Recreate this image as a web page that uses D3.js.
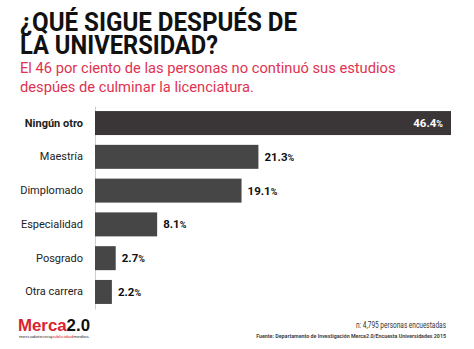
<!DOCTYPE html>
<html>
<head>
<meta charset="utf-8">
<script src="https://cdn.jsdelivr.net/npm/d3@7"></script>
<style>
  body { margin: 0; background: #fff; }
  svg text { font-family: Roboto, "Noto Sans", sans-serif; }
</style>
</head>
<body>
<div id="graph"></div>
<script>
var categories = ["Ningún otro", "Maestría", "Dimplomado", "Especialidad", "Posgrado", "Otra carrera"];
var values = [46.4, 21.3, 19.1, 8.1, 2.7, 2.2];
var titleLines = ["¿QUÉ SIGUE DESPUÉS DE", "LA UNIVERSIDAD?"];
var titleWidths = [277, 198];
var subtitleLines = ["El 46 por ciento de las personas no continuó sus estudios",
                     "despúes de culminar la licenciatura."];

var width = 474;
var height = 349;
var margin = {left: 95, top: 106, bottom: 40};

var svg = d3.select("#graph")
    .append("svg")
    .attr("width", width)
    .attr("height", height);

// heading, squeezed to a condensed look
svg.selectAll(".title")
    .data(titleLines)
    .enter()
    .append("text")
    .attr("class", "title")
    .attr("x", 20)
    .attr("y", function(d, i) { return 31 + i * 23; })
    .attr("textLength", function(d, i) { return titleWidths[i]; })
    .attr("lengthAdjust", "spacingAndGlyphs")
    .style("font-weight", "bold")
    .style("font-size", "25px")
    .style("fill", "#111")
    .text(function(d) { return d; });

svg.selectAll(".subtitle")
    .data(subtitleLines)
    .enter()
    .append("text")
    .attr("class", "subtitle")
    .attr("x", 20)
    .attr("y", function(d, i) { return 73 + i * 19; })
    .style("font-size", "14.7px")
    .style("fill", "#e0324f")
    .text(function(d) { return d; });

var data = categories.map(function(c, i) { return {name: c, value: values[i], i: i}; });

var xScale = d3.scaleLinear().domain([0, 46.4]).range([margin.left, 451]);
var yScale = d3.scaleBand().domain(categories).range([106, 309])
    .paddingInner(0.29).paddingOuter(0.15);

var yAxis = d3.axisLeft(yScale).tickSize(0).tickPadding(12);
var yContainer = svg.append("g")
    .attr("transform", "translate(" + margin.left + ",0)")
    .call(yAxis);
yContainer.select(".domain").attr("stroke", "#cfcfcf").attr("stroke-width", 1);
yContainer.selectAll(".tick text")
    .style("font-family", "Roboto, sans-serif")
    .style("font-size", "11px")
    .style("fill", "#222")
    .style("font-weight", function(d, i) { return i == 0 ? "bold" : "normal"; });

svg.selectAll(".bar")
    .data(data)
    .enter()
    .append("rect")
    .attr("class", "bar")
    .attr("x", xScale(0))
    .attr("y", function(d) { return yScale(d.name); })
    .attr("width", function(d) { return xScale(d.value) - xScale(0); })
    .attr("height", yScale.bandwidth())
    .attr("fill", function(d) { return d.i == 0 ? "#3a3537" : "#464646"; });

// value labels: inside the first bar, after the others
var labels = svg.selectAll(".value")
    .data(data)
    .enter()
    .append("text")
    .attr("class", "value")
    .attr("x", function(d) { return d.i == 0 ? xScale(d.value) - 8 : xScale(d.value) + 6; })
    .attr("y", function(d) { return yScale(d.name) + yScale.bandwidth() / 2 + 4; })
    .attr("text-anchor", function(d) { return d.i == 0 ? "end" : "start"; })
    .style("font-weight", "bold")
    .style("font-size", "11.5px")
    .style("fill", function(d) { return d.i == 0 ? "#fff" : "#111"; });
labels.append("tspan").text(function(d) { return d.value.toFixed(1); });
labels.append("tspan").style("font-size", "9px").text("%");

// footer
svg.append("text")
    .attr("x", 446).attr("y", 328)
    .attr("text-anchor", "end")
    .attr("textLength", 90)
    .attr("lengthAdjust", "spacingAndGlyphs")
    .style("font-size", "8.5px")
    .style("fill", "#333")
    .text("n: 4,795 personas encuestadas");
svg.append("text")
    .attr("x", 446).attr("y", 338)
    .attr("text-anchor", "end")
    .style("font-weight", "bold")
    .style("font-size", "5.3px")
    .style("fill", "#444")
    .text("Fuente: Departamento de Investigación Merca2.0/Encuesta Universidades 2015");

// logo
var logo = svg.append("text")
    .attr("x", 18).attr("y", 331)
    .attr("textLength", 72)
    .attr("lengthAdjust", "spacingAndGlyphs")
    .style("font-family", "'Liberation Sans', Arial, sans-serif")
    .style("font-weight", "bold")
    .style("font-size", "17px");
logo.append("tspan").style("fill", "#d9232e").text("Merca");
logo.append("tspan").style("fill", "#111").text("2.0");

var tag = svg.append("text")
    .attr("x", 19).attr("y", 337.5)
    .attr("textLength", 70)
    .attr("lengthAdjust", "spacingAndGlyphs")
    .style("font-family", "'Liberation Sans', sans-serif")
    .style("font-size", "4.2px");
tag.append("tspan").style("fill", "#333").text("mercadotecnia");
tag.append("tspan").style("fill", "#d9232e").text("publicidad");
tag.append("tspan").style("fill", "#333").text("medios");
</script>
</body>
</html>
